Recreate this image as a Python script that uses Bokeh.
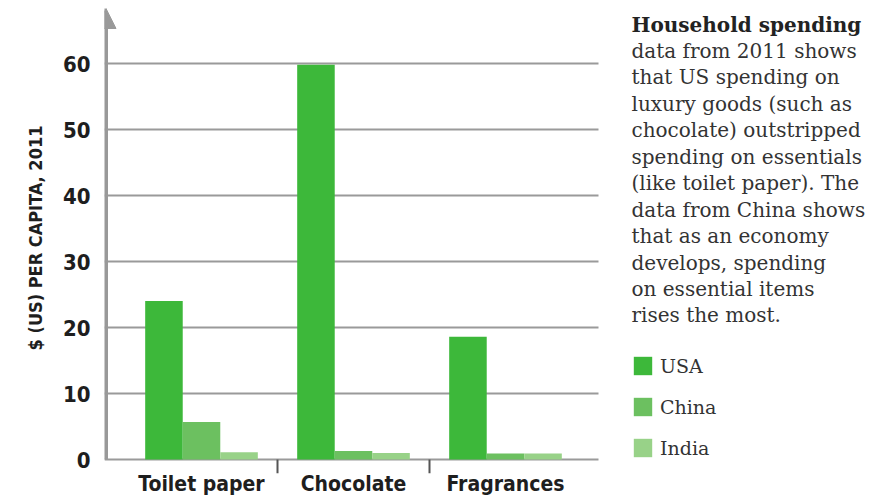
from bokeh.plotting import figure
from bokeh.models import (ColumnDataSource, Range1d, FixedTicker, Arrow,
                          NormalHead, Label, Legend, LegendItem)
from bokeh.embed import file_html
from bokeh.resources import INLINE

categories = ["Toilet paper", "Chocolate", "Fragrances"]
countries = ["USA", "China", "India"]
usa = [24.0, 59.8, 18.6]
china = [5.7, 1.3, 0.9]
india = [1.1, 1.0, 0.9]
y_ticks = [0, 10, 20, 30, 40, 50, 60]
note_title = "Household spending"
note_lines = ["data from 2011 shows", "that US spending on", "luxury goods (such as",
              "chocolate) outstripped", "spending on essentials", "(like toilet paper). The",
              "data from China shows", "that as an economy", "develops, spending",
              "on essential items", "rises the most."]

colors = ["#3db83a", "#6cc060", "#98d288"]
COND = "'DejaVu Sans Condensed', 'DejaVu Sans'"
SERIF = "'DejaVu Serif'"

# layout constants (pixels)
FRAME_LEFT = 104
CAT_PX = 152.0
UNIT_PX = 6.6
ZERO_Y = 459
FRAME_TOP = 2
X_START = -(201 - FRAME_LEFT) / CAT_PX
X_END = X_START + (876 - FRAME_LEFT) / CAT_PX
GRID_END = X_START + (598 - FRAME_LEFT) / CAT_PX
Y_END = (ZERO_Y - FRAME_TOP) / UNIT_PX
Y_START = -(473 - ZERO_Y) / UNIT_PX

idx = list(range(len(categories)))
bw = 0.247
offsets = [-bw, 0.0, bw]
source = ColumnDataSource(dict(
    x_USA=[i + offsets[0] for i in idx], x_China=[i + offsets[1] for i in idx],
    x_India=[i + offsets[2] for i in idx], USA=usa, China=china, India=india))
sep_x = [i + 0.5 for i in idx[:-1]]

p = figure(width=876, height=498, output_backend="svg", toolbar_location=None,
           x_range=Range1d(X_START, X_END), y_range=Range1d(Y_START, Y_END),
           min_border_left=FRAME_LEFT, min_border_right=0, min_border_top=FRAME_TOP,
           min_border_bottom=0)
p.outline_line_color = None
p.background_fill_color = "white"
p.border_fill_color = "white"

# horizontal gridlines (from the tick list), stopping before the note
p.segment(x0=[X_START] * len(y_ticks), x1=[GRID_END] * len(y_ticks), y0=y_ticks, y1=y_ticks,
          line_color="#9a9a9a", line_width=2)

renderers = []
for name, col in zip(countries, colors):
    r = p.vbar(x="x_" + name, top=name, width=bw, bottom=0,
               source=source, fill_color=col, line_color=None)
    renderers.append(r)

# category separator ticks
p.segment(x0=sep_x, x1=sep_x, y0=[0] * len(sep_x), y1=[Y_START] * len(sep_x),
          line_color="#555555", line_width=2)

# axes
p.xaxis.ticker = FixedTicker(ticks=idx)
p.xaxis.major_label_overrides = {i: c for i, c in zip(idx, categories)}
p.xaxis.axis_line_color = None
p.xaxis.major_tick_line_color = None
p.xaxis.minor_tick_line_color = None
p.xaxis.major_label_standoff = -8
p.xaxis.major_label_text_font = COND
p.xaxis.major_label_text_font_style = "bold"
p.xaxis.major_label_text_font_size = "21px"
p.xaxis.major_label_text_color = "#1e1e1e"
p.xgrid.grid_line_color = None
p.ygrid.grid_line_color = None

p.yaxis.ticker = FixedTicker(ticks=y_ticks)
p.yaxis.axis_line_color = None
p.yaxis.major_tick_line_color = None
p.yaxis.minor_tick_line_color = None
p.yaxis.major_label_standoff = 8
p.yaxis.major_label_text_font = COND
p.yaxis.major_label_text_font_style = "bold"
p.yaxis.major_label_text_font_size = "22px"
p.yaxis.major_label_text_color = "#1e1e1e"
p.yaxis.axis_label = "$ (US) PER CAPITA, 2011"
p.yaxis.axis_label_text_font = COND
p.yaxis.axis_label_text_font_style = "bold"
p.yaxis.axis_label_text_font_size = "18px"
p.yaxis.axis_label_text_color = "#1e1e1e"
p.yaxis.axis_label_standoff = 14

x_axis_line = X_START + 1.5 / CAT_PX
p.add_layout(Arrow(x_start=x_axis_line, y_start=0, x_end=x_axis_line, y_end=(ZERO_Y - 8) / UNIT_PX,
                   line_color="#999999", line_width=4,
                   end=NormalHead(size=20, fill_color="#999999", line_color="#999999")))

def xd(page_x):
    return X_START + (page_x - FRAME_LEFT) / CAT_PX
def yd(page_y):
    return (ZERO_Y - page_y) / UNIT_PX

LINE_STEP = 26.45
p.add_layout(Label(x=xd(631), y=yd(24), text=note_title, text_font=SERIF,
                   text_font_style="bold", text_font_size="20px", text_color="#222222",
                   text_baseline="alphabetic"))
for i, line in enumerate(note_lines):
    p.add_layout(Label(x=xd(631), y=yd(24 + LINE_STEP * (i + 1)), text=line, text_font=SERIF,
                       text_font_size="20px", text_color="#333333",
                       text_baseline="alphabetic"))

legend = Legend(items=[LegendItem(label=n, renderers=[r]) for n, r in zip(countries, renderers)],
                location=(631 - FRAME_LEFT, 473 - 459), glyph_width=23, glyph_height=23,
                spacing=18, label_standoff=6, padding=0, margin=0, border_line_color=None,
                background_fill_alpha=0, label_text_font=SERIF, label_text_font_size="19px",
                label_text_color="#333333")
p.add_layout(legend)

open("out.html", "w").write(file_html(p, INLINE))
